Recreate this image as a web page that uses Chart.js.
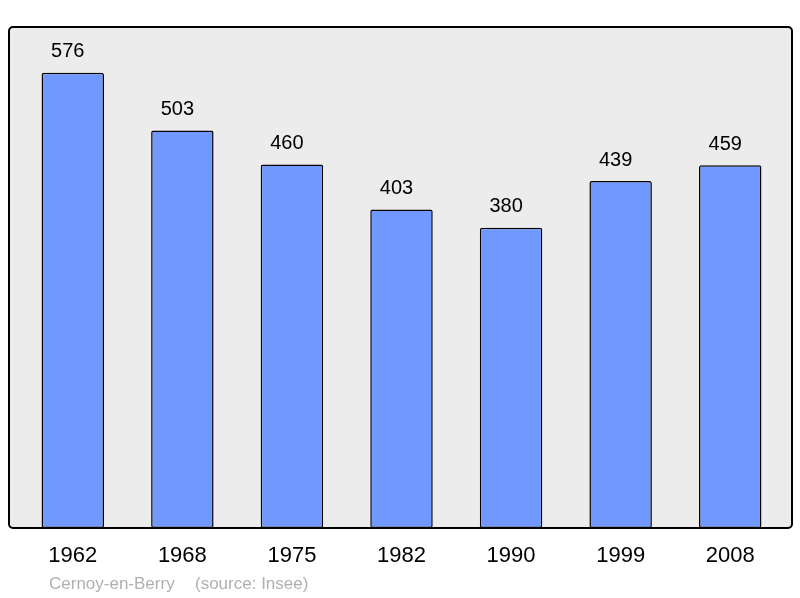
<!DOCTYPE html>
<html>
<head>
<meta charset="utf-8">
<script src="https://cdn.jsdelivr.net/npm/chart.js@4"></script>
<style>
  html, body { margin: 0; padding: 0; background: #fff; }
  #wrap { width: 800px; height: 598px; }
</style>
</head>
<body>
<div id="wrap"><canvas id="myChart" width="800" height="598"></canvas></div>
<script>
'use strict';

const years = ['1962', '1968', '1975', '1982', '1990', '1999', '2008'];
const population = [576, 503, 460, 403, 380, 439, 459];
const commune = 'Cernoy-en-Berry';
const source = '(source: Insee)';

// frame behind the bars + value labels + year labels + footer
const decor = {
    id: 'decor',
    beforeDatasetsDraw(chart) {
        const ctx = chart.ctx;
        ctx.save();
        ctx.beginPath();
        ctx.roundRect(9, 27, 783, 501, 4);
        ctx.fillStyle = '#ececec';
        ctx.fill();
        ctx.lineWidth = 2;
        ctx.strokeStyle = '#000';
        ctx.stroke();
        ctx.restore();
    },
    afterDatasetsDraw(chart) {
        const ctx = chart.ctx;
        const x = chart.scales.x;
        const y = chart.scales.y;
        ctx.save();
        ctx.fillStyle = '#000';
        ctx.textAlign = 'center';
        ctx.textBaseline = 'middle';
        ctx.font = '20px "Liberation Sans", Arial, sans-serif';
        population.forEach((v, i) => {
            ctx.fillText(String(v), x.getPixelForValue(i) - 5, y.getPixelForValue(v) - 21);
        });
        ctx.font = '22px "Liberation Sans", Arial, sans-serif';
        years.forEach((yr, i) => {
            ctx.fillText(yr, x.getPixelForValue(i), 556);
        });
        ctx.textAlign = 'left';
        ctx.fillStyle = '#b0b0b0';
        ctx.font = '17px "Liberation Sans", Arial, sans-serif';
        ctx.fillText(commune, 49, 584);
        ctx.fillText(source, 195, 584);
        ctx.restore();
    }
};

new Chart(document.getElementById('myChart'), {
    type: 'bar',
    data: {
        labels: years,
        datasets: [{
            data: population,
            backgroundColor: '#7098ff',
            borderColor: '#000',
            borderWidth: 1.5,
            borderRadius: 2,
            borderSkipped: false,
            barPercentage: 0.57,
            categoryPercentage: 1
        }]
    },
    options: {
        responsive: false,
        animation: false,
        layout: {
            padding: { left: 18, right: 15, top: 27, bottom: 70 }
        },
        plugins: {
            legend: { display: false },
            tooltip: { enabled: false }
        },
        scales: {
            x: { display: false },
            y: { display: false, min: 0, max: 634 }
        }
    },
    plugins: [decor]
});
</script>
</body>
</html>
